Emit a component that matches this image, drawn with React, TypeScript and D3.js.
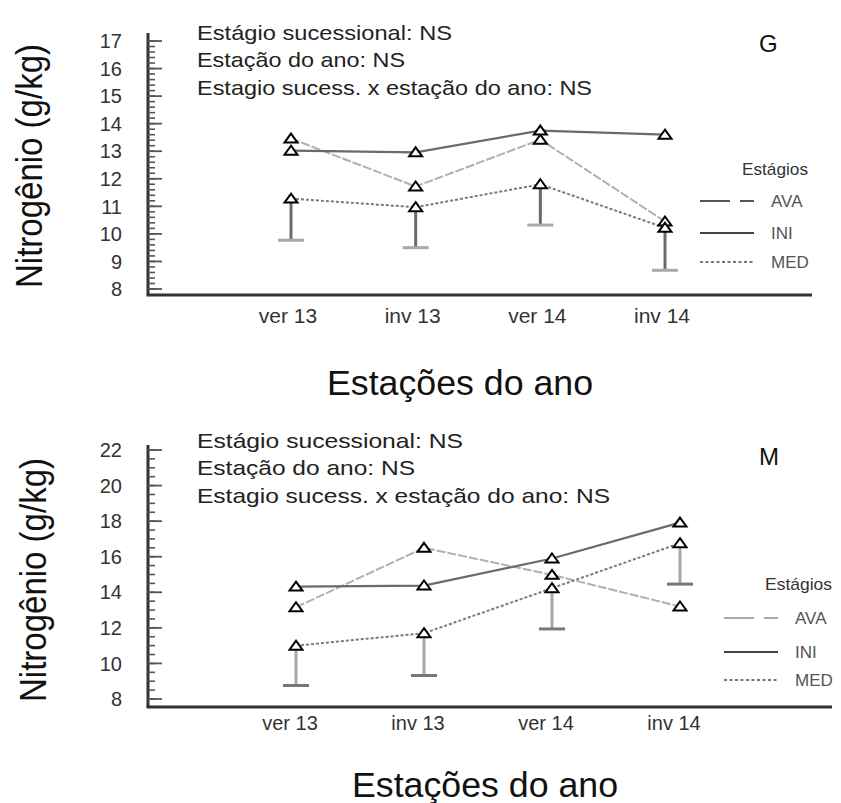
import React from "react";
import * as d3 from "d3";

const seasons = ["ver 13", "inv 13", "ver 14", "inv 14"];
const stages = ["AVA", "INI", "MED"];

// Panel G
const gTicks = [8, 9, 10, 11, 12, 13, 14, 15, 16, 17];
const gINI = [13.02, 12.96, 13.75, 13.6];
const gAVA = [13.46, 11.72, 13.42, 10.45];
const gMED = [11.28, 10.97, 11.8, 10.22];
const gMEDLow = [9.77, 9.5, 10.32, 8.68];
const gNotes = ["Estágio sucessional: NS", "Estação do ano: NS", "Estagio sucess. x estação do ano: NS"];

// Panel M
const mTicks = [8, 10, 12, 14, 16, 18, 20, 22];
const mINI = [14.32, 14.38, 15.9, 17.92];
const mAVA = [13.16, 16.5, 14.98, 13.2];
const mMED = [11.0, 11.7, 14.23, 16.76];
const mMEDLow = [8.76, 9.32, 11.94, 14.46];
const mNotes = ["Estágio sucessional: NS", "Estação do ano: NS", "Estagio sucess. x estação do ano: NS"];

const FONT = "'Liberation Sans', Arial, sans-serif";

type PanelCfg = {
  letter: string;
  ticks: number[];
  minorStep: number;
  domain: [number, number];
  yRange: [number, number];
  xRange: [number, number];
  axisTop: number;
  axisBottom: number;
  axisRight: number;
  ini: number[];
  ava: number[];
  med: number[];
  low: number[];
  notes: string[];
  noteLens: number[];
  noteBase: number[];
  letterPos: [number, number];
  labelOffset: number;
  labelBase: number;
  labelSize: number;
  titleY: number;
  titleCx: number;
  yTitleX: number;
  yTitleCy: number;
  legendX: number;
  legendTextX: number;
  legendHead: [number, number, number];
  legendYs: number[];
  stemColor: string;
  capColor: string;
};

const styles: Record<string, { stroke: string; dash: string; width: number }> = {
  AVA: { stroke: "#b0b0b0", dash: "9,2", width: 2 },
  INI: { stroke: "#6a6a6a", dash: "", width: 2.2 },
  MED: { stroke: "#7a7a7a", dash: "3,2", width: 2 },
};

const tri = "M0,-5L6.5,4L-6.5,4Z";

function Panel({ c }: { c: PanelCfg }) {
  const y = d3.scaleLinear().domain(c.domain).range(c.yRange);
  const x = d3.scalePoint<string>().domain(seasons).range(c.xRange);
  const line = d3
    .line<number>()
    .x((_, i) => x(seasons[i]) as number)
    .y((d) => y(d));
  const minors = d3.range(c.domain[0], c.domain[1] + 1e-9, c.minorStep);
  const series: [string, number[]][] = [
    ["AVA", c.ava],
    ["INI", c.ini],
    ["MED", c.med],
  ];
  const axisX = 148;
  return (
    <g fontFamily={FONT}>
      {c.notes.map((t, i) => (
        <text key={t} x={197} y={c.noteBase[i]} fontSize={21} fill="#222" textLength={c.noteLens[i]} lengthAdjust="spacingAndGlyphs">
          {t}
        </text>
      ))}
      <text x={c.letterPos[0]} y={c.letterPos[1]} fontSize={24} fill="#111">
        {c.letter}
      </text>
      <line x1={axisX} x2={axisX} y1={c.axisTop} y2={c.axisBottom} stroke="#333" strokeWidth={3} />
      <line x1={axisX - 1.5} x2={c.axisRight} y1={c.axisBottom} y2={c.axisBottom} stroke="#333" strokeWidth={3} />
      {minors.map((v) => (
        <line key={"m" + v} x1={axisX} x2={axisX + 7} y1={y(v)} y2={y(v)} stroke="#555" strokeWidth={1.6} />
      ))}
      {c.ticks.map((v) => (
        <g key={"t" + v}>
          <line x1={axisX} x2={axisX + 14} y1={y(v)} y2={y(v)} stroke="#555" strokeWidth={1.8} />
          <text x={122} y={y(v)} dy="0.36em" textAnchor="end" fontSize={20} fill="#333">
            {v}
          </text>
        </g>
      ))}
      {seasons.map((s) => (
        <text key={s} x={(x(s) as number) + c.labelOffset} y={c.labelBase} textAnchor="middle" fontSize={c.labelSize} fill="#333">
          {s}
        </text>
      ))}
      <text x={c.titleCx} y={c.titleY} textAnchor="middle" fontSize={35} fill="#111" textLength={266} lengthAdjust="spacingAndGlyphs">
        Estações do ano
      </text>
      <text
        transform={`translate(${c.yTitleX},${c.yTitleCy}) rotate(-90)`}
        textAnchor="middle"
        fontSize={37}
        fill="#111"
        textLength={244}
        lengthAdjust="spacingAndGlyphs"
      >
        Nitrogênio (g/kg)
      </text>
      {series.map(([k, vals]) => (
        <path key={k} d={line(vals) as string} fill="none" stroke={styles[k].stroke} strokeWidth={styles[k].width} strokeDasharray={styles[k].dash} />
      ))}
      {c.med.map((v, i) => {
        const cx = x(seasons[i]) as number;
        return (
          <g key={"e" + i}>
            <line x1={cx} x2={cx} y1={y(v)} y2={y(c.low[i])} stroke={c.stemColor} strokeWidth={3} />
            <line x1={cx - 13} x2={cx + 13} y1={y(c.low[i])} y2={y(c.low[i])} stroke={c.capColor} strokeWidth={3} />
          </g>
        );
      })}
      {series.map(([k, vals]) =>
        vals.map((v, i) => (
          <path key={k + i} d={tri} transform={`translate(${x(seasons[i])},${y(v)})`} fill="#fff" stroke="#000" strokeWidth={2} />
        ))
      )}
      <text x={c.legendHead[0]} y={c.legendHead[1]} fontSize={17} fill="#333" textLength={c.legendHead[2]} lengthAdjust="spacingAndGlyphs">
        Estágios
      </text>
      {stages.map((k, i) => (
        <g key={"l" + k}>
          {k === "AVA" ? (
            <path
              d={`M${c.legendX},${c.legendYs[i]}h30M${c.legendX + 40},${c.legendYs[i]}h14`}
              stroke={c.letter === "G" ? "#555" : "#aaa"}
              strokeWidth={2.2}
            />
          ) : (
            <line
              x1={c.legendX}
              x2={c.legendX + 54}
              y1={c.legendYs[i]}
              y2={c.legendYs[i]}
              stroke={k === "INI" ? "#444" : "#777"}
              strokeWidth={2.2}
              strokeDasharray={k === "MED" ? "3,2.5" : ""}
            />
          )}
          <text x={c.legendTextX} y={c.legendYs[i]} dy="0.36em" fontSize={17} fill="#555">
            {k}
          </text>
        </g>
      ))}
    </g>
  );
}

const panelG: PanelCfg = {
  letter: "G",
  ticks: gTicks,
  minorStep: 0.2,
  domain: [8, 17],
  yRange: [289, 41],
  xRange: [291, 665],
  axisTop: 33,
  axisBottom: 295,
  axisRight: 812,
  ini: gINI,
  ava: gAVA,
  med: gMED,
  low: gMEDLow,
  notes: gNotes,
  noteLens: [255, 208, 395],
  noteBase: [40, 67, 95],
  letterPos: [759, 52],
  labelOffset: -3,
  labelBase: 323,
  labelSize: 21,
  titleY: 395,
  titleCx: 460,
  yTitleX: 42,
  yTitleCy: 166,
  legendX: 700,
  legendTextX: 771,
  legendHead: [742, 175, 66],
  legendYs: [201, 233, 262],
  stemColor: "#6a6a6a",
  capColor: "#a8a8a8",
};

const panelM: PanelCfg = {
  letter: "M",
  ticks: mTicks,
  minorStep: 0.5,
  domain: [8, 22],
  yRange: [699, 450],
  xRange: [296, 680],
  axisTop: 445,
  axisBottom: 707,
  axisRight: 832,
  ini: mINI,
  ava: mAVA,
  med: mMED,
  low: mMEDLow,
  notes: mNotes,
  noteLens: [266, 218, 413],
  noteBase: [448, 475, 503],
  letterPos: [759, 465],
  labelOffset: -6,
  labelBase: 730,
  labelSize: 20,
  titleY: 797,
  titleCx: 485,
  yTitleX: 46,
  yTitleCy: 580,
  legendX: 724,
  legendTextX: 795,
  legendHead: [765, 590, 67],
  legendYs: [618, 652, 680],
  stemColor: "#a8a8a8",
  capColor: "#777",
};

export default function App() {
  return (
    <svg width={841} height={803} style={{ position: "absolute", left: 0, top: 0, background: "#fff" }}>
      <rect width={841} height={803} fill="#fff" />
      <Panel c={panelG} />
      <Panel c={panelM} />
    </svg>
  );
}
